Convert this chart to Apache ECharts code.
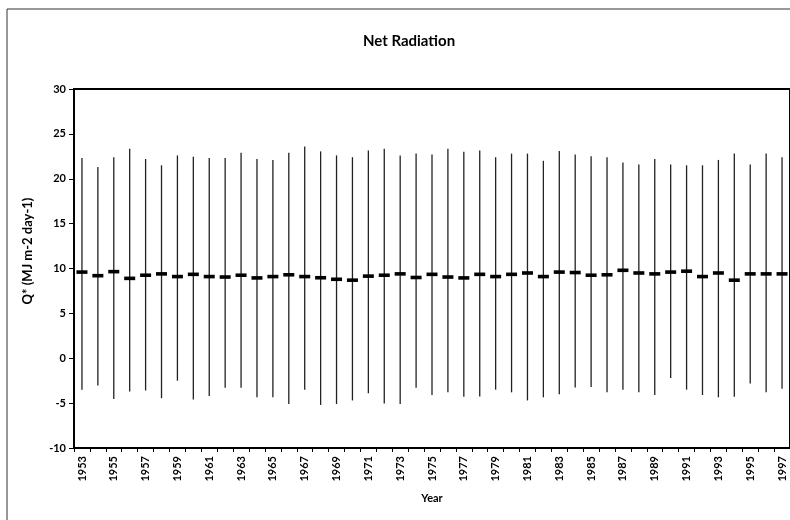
<!DOCTYPE html>
<html>
<head>
<meta charset="utf-8">
<script src="https://cdn.jsdelivr.net/npm/echarts@6/dist/echarts.min.js"></script>
<style>
  html, body { margin: 0; padding: 0; background: #fff; }
  #chart { width: 790px; height: 520px; }
</style>
</head>
<body>
<div id="chart"></div>
<script>
// Annual net radiation: daily maximum, minimum and mean (MJ m-2 day-1)
const years = [];
for (let y = 1953; y <= 1997; y++) years.push(String(y));

const dailyMax = [
  22.3, 21.3, 22.4, 23.35, 22.2, 21.5, 22.6, 22.45, 22.3, 22.3,
  22.9, 22.2, 22.1, 22.9, 23.6, 23.05, 22.6, 22.4, 23.15, 23.35,
  22.6, 22.8, 22.7, 23.35, 23.0, 23.15, 22.4, 22.8, 22.8, 22.0,
  23.1, 22.7, 22.5, 22.4, 21.8, 21.6, 22.2, 21.6, 21.5, 21.5,
  22.1, 22.8, 21.6, 22.8, 22.4
];

const dailyMin = [
  -3.5, -3.05, -4.55, -3.7, -3.6, -4.45, -2.5, -4.6, -4.2, -3.3,
  -3.3, -4.35, -4.35, -5.1, -3.5, -5.2, -5.1, -4.7, -3.9, -5.05,
  -5.1, -3.3, -4.1, -3.8, -4.3, -4.25, -3.5, -3.8, -4.7, -4.35,
  -4.0, -3.25, -3.2, -3.8, -3.5, -3.8, -4.1, -2.2, -3.5, -4.1,
  -4.35, -4.3, -2.8, -3.8, -3.4
];

const dailyMean = [
  9.6, 9.2, 9.65, 8.9, 9.25, 9.4, 9.1, 9.35, 9.1, 9.05,
  9.25, 8.95, 9.1, 9.3, 9.1, 8.97, 8.8, 8.7, 9.15, 9.25,
  9.4, 9.0, 9.35, 9.05, 8.95, 9.35, 9.1, 9.35, 9.5, 9.1,
  9.6, 9.55, 9.25, 9.3, 9.8, 9.5, 9.4, 9.6, 9.7, 9.1,
  9.5, 8.7, 9.4, 9.4, 9.4
];

const FONT = 'Lato, "Open Sans", sans-serif';

const chart = echarts.init(document.getElementById('chart'), null, { renderer: 'canvas' });

// One vertical min-max line per year with a short dash at the mean
function renderRange(params, api) {
  const idx = api.value(0);
  const top = api.coord([idx, api.value(1)]);
  const bottom = api.coord([idx, api.value(2)]);
  const mid = api.coord([idx, api.value(3)]);
  return {
    type: 'group',
    children: [
      {
        type: 'line',
        shape: { x1: top[0], y1: top[1], x2: bottom[0], y2: bottom[1] },
        style: { stroke: '#222', lineWidth: 1.3 }
      },
      {
        type: 'rect',
        shape: { x: mid[0] - 5.5, y: mid[1] - 1.8, width: 11, height: 3.6 },
        style: { fill: '#000' }
      }
    ]
  };
}

chart.setOption({
  animation: false,
  backgroundColor: '#fff',
  title: {
    text: 'Net Radiation',
    left: 404,
    top: 29,
    textAlign: 'center',
    textStyle: { fontFamily: FONT, fontWeight: 'bold', fontSize: 15, color: '#000' }
  },
  graphic: [
    {
      type: 'rect',
      shape: { x: 7, y: 9, width: 820, height: 540 },
      style: { fill: 'none', stroke: '#333', lineWidth: 1 },
      silent: true
    },
    {
      type: 'text',
      x: 28,
      y: 251,
      rotation: Math.PI / 2,
      style: {
        text: 'Q* (MJ m-2 day-1)',
        fontFamily: FONT,
        fontWeight: 'bold',
        fontSize: 13,
        fill: '#000',
        align: 'center',
        verticalAlign: 'middle'
      }
    }
  ],
  grid: {
    left: 74,
    top: 89,
    width: 718.6,
    height: 359,
    show: true,
    borderColor: '#000',
    borderWidth: 2,
    backgroundColor: 'transparent'
  },
  xAxis: {
    type: 'category',
    data: years,
    boundaryGap: true,
    name: 'Year',
    nameLocation: 'middle',
    nameGap: 45,
    nameTextStyle: { fontFamily: FONT, fontWeight: 'bold', fontSize: 11, color: '#000' },
    axisLine: { onZero: false, lineStyle: { color: '#000', width: 2 } },
    axisTick: { show: true, interval: 0, length: 4, lineStyle: { color: '#000', width: 1 } },
    axisLabel: {
      interval: 1,
      rotate: 90,
      margin: 8,
      fontFamily: FONT,
      fontWeight: 'bold',
      fontSize: 11,
      color: '#000'
    },
    splitLine: { show: false }
  },
  yAxis: {
    type: 'value',
    min: -10,
    max: 30,
    interval: 5,
    axisLine: { show: true, onZero: false, lineStyle: { color: '#000', width: 2 } },
    axisTick: { show: true, length: 5, lineStyle: { color: '#000', width: 1 } },
    axisLabel: {
      margin: 8,
      fontFamily: FONT,
      fontWeight: 'bold',
      fontSize: 11,
      color: '#000'
    },
    splitLine: { show: false }
  },
  series: [
    {
      type: 'custom',
      renderItem: renderRange,
      encode: { x: 0, y: [1, 2, 3] },
      data: years.map((y, i) => [i, dailyMax[i], dailyMin[i], dailyMean[i]]),
      clip: false
    }
  ]
});
</script>
</body>
</html>
